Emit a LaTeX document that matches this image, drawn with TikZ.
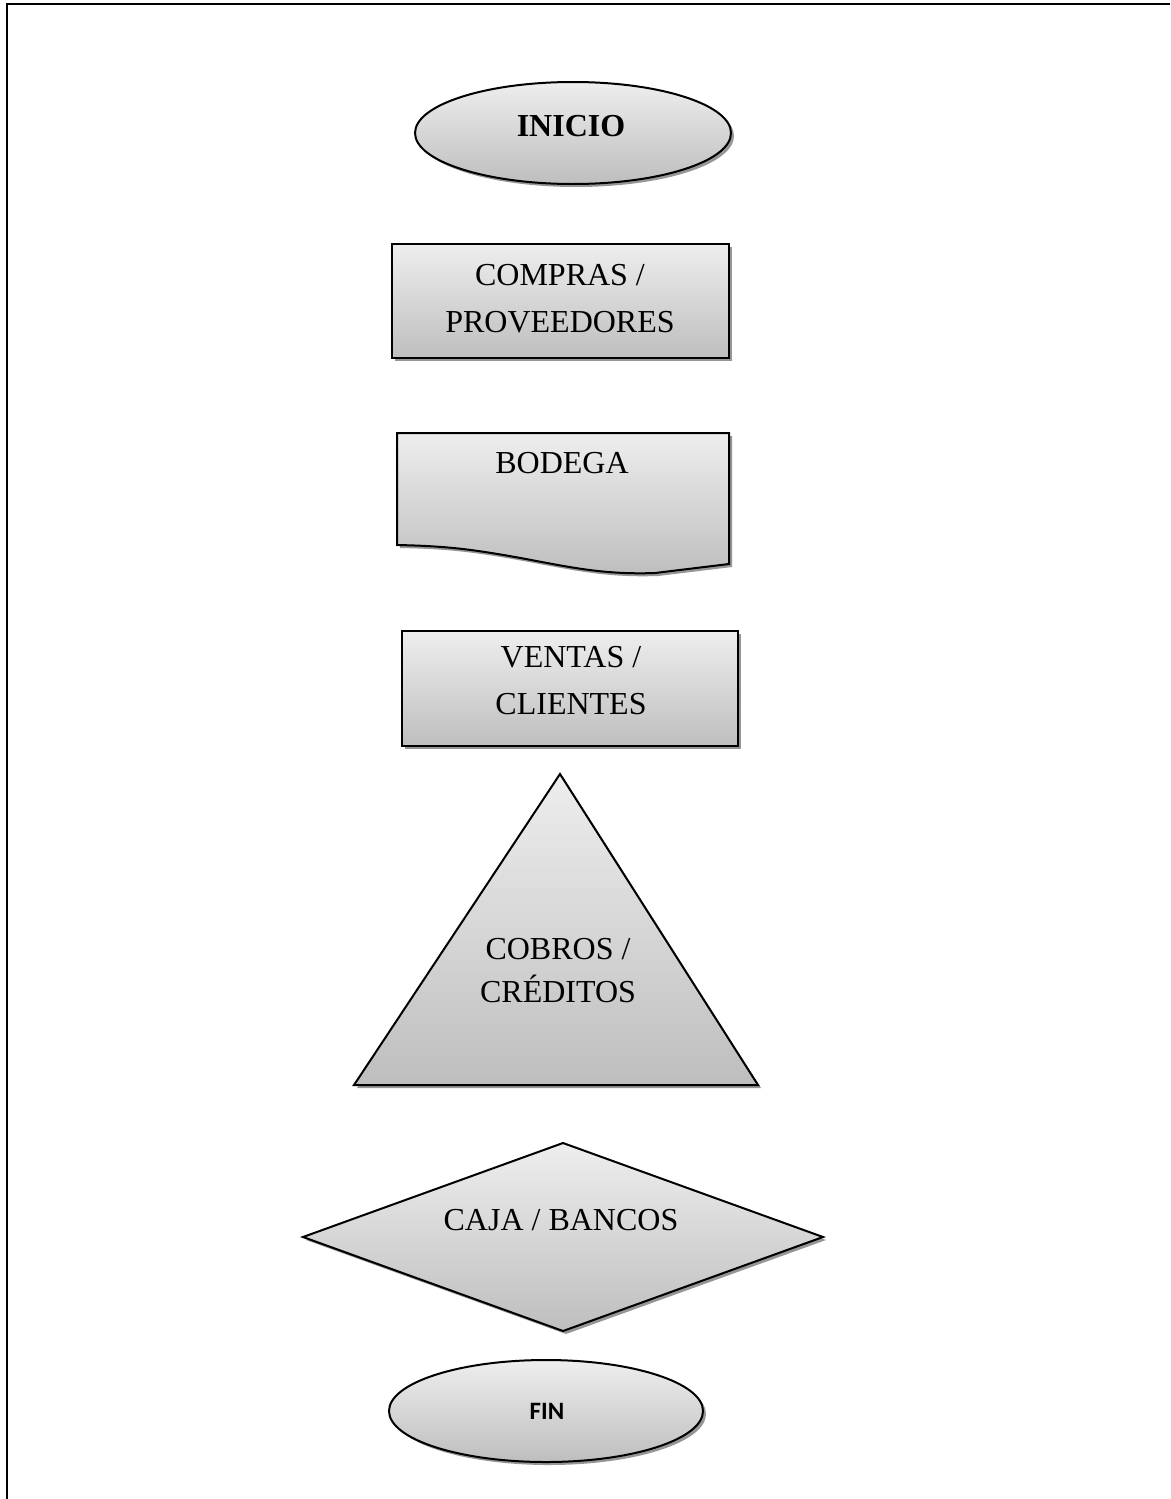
\documentclass[tikz,border=0pt]{standalone}
\usepackage{fontspec}
\setmainfont{Liberation Serif}
\newfontfamily\calibrifont{Carlito}
\definecolor{shadetop}{RGB}{238,238,238}
\definecolor{shadebot}{RGB}{190,190,190}
\definecolor{shadowgray}{RGB}{150,150,150}
\tikzset{
  boxfill/.style={top color=shadetop, bottom color=shadebot, draw=black, line width=2pt, line join=miter},
  boxshadow/.style={fill=shadowgray, shift={(3,3)}},
  label/.style={font=\fontsize{32}{47}\selectfont, align=center, inner sep=0pt, anchor=base},
}
\begin{document}
\begin{tikzpicture}[x=1pt, y=-1pt]
\useasboundingbox (0,0) rectangle (1170,1499);
\fill[white] (0,0) rectangle (1170,1499);
% page frame (left and top rules only)
\draw[line width=2.8pt] (7,1499) -- (7,4) -- (1170,4);

% INICIO terminal
\fill[boxshadow] (573,133) ellipse [x radius=158, y radius=51];
\path[boxfill] (573,133) ellipse [x radius=158, y radius=51];
\node[label, font=\fontsize{32}{47}\selectfont\bfseries] (inicio) at (571,136) {INICIO};

% COMPRAS / PROVEEDORES process box (anchor is the last line's baseline)
\fill[boxshadow] (392,244) rectangle (729,358);
\path[boxfill] (392,244) rectangle (729,358);
\node[label] (compras) at (560,332) {COMPRAS /\\PROVEEDORES};

% BODEGA document shape
\def\docpath{(397,433) -- (729,433) -- (729,564) -- (655,573)
  .. controls (600,575) and (565,566) .. (515,557)
  .. controls (470,549) and (445,546) .. (397,545) -- cycle}
\fill[boxshadow] \docpath;
\path[boxfill] \docpath;
\node[label] (bodega) at (562,473) {BODEGA};

% VENTAS / CLIENTES process box
\fill[boxshadow] (402,631) rectangle (738,746);
\path[boxfill] (402,631) rectangle (738,746);
\node[label] (ventas) at (571,714) {VENTAS /\\CLIENTES};

% COBROS / CREDITOS triangle
\fill[boxshadow] (560,774) -- (758,1085) -- (354,1085) -- cycle;
\path[boxfill] (560,774) -- (758,1085) -- (354,1085) -- cycle;
\node[label, font=\fontsize{32}{43}\selectfont] (cobros) at (558,1002) {COBROS /\\CRÉDITOS};

% CAJA / BANCOS decision
\fill[boxshadow] (563,1143) -- (823,1237) -- (563,1331) -- (303,1237) -- cycle;
\path[boxfill] (563,1143) -- (823,1237) -- (563,1331) -- (303,1237) -- cycle;
\node[label] (caja) at (561,1230) {CAJA / BANCOS};

% FIN terminal
\fill[boxshadow] (546,1411) ellipse [x radius=157, y radius=51];
\path[boxfill] (546,1411) ellipse [x radius=157, y radius=51];
\node[label, font=\calibrifont\bfseries\fontsize{25}{30}\selectfont] (fin) at (547,1419) {FIN};
\end{tikzpicture}
\end{document}
